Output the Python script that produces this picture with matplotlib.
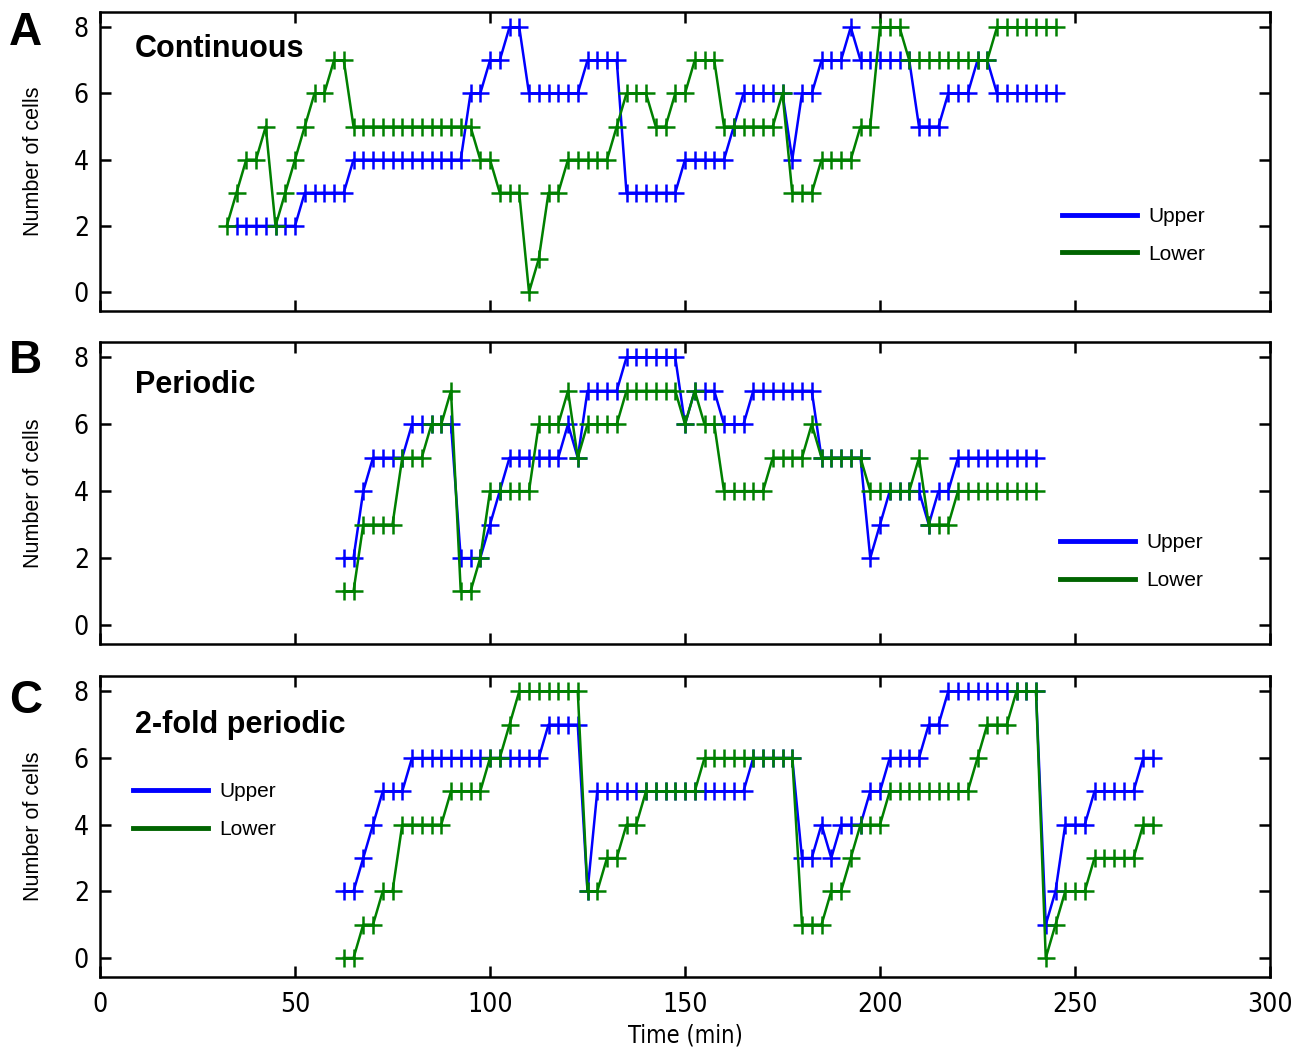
import numpy as np
import matplotlib
matplotlib.use("Agg")
from matplotlib import pyplot as plt
from matplotlib.lines import Line2D

# sampling interval of the recordings (min)
dt = 2.5

# Panel A - continuous
a_upper_t0 = 35.0
a_upper = [2, 2, 2, 2, 2, 2, 2, 3, 3, 3, 3, 3, 4, 4, 4, 4, 4, 4, 4, 4, 4, 4, 4, 4,
           6, 6, 7, 7, 8, 8, 6, 6, 6, 6, 6, 6, 7, 7, 7, 7, 3, 3, 3, 3, 3, 3,
           4, 4, 4, 4, 4, 5, 6, 6, 6, 6, 6, 4, 6, 6, 7, 7, 7, 8, 7, 7, 7, 7, 7, 7,
           5, 5, 5, 6, 6, 6, 7, 7, 6, 6, 6, 6, 6, 6, 6]
a_lower_t0 = 32.5
a_lower = [2, 3, 4, 4, 5, 2, 3, 4, 5, 6, 6, 7, 7,
           5, 5, 5, 5, 5, 5, 5, 5, 5, 5, 5, 5, 5, 4, 4, 3, 3, 3, 0, 1, 3, 3,
           4, 4, 4, 4, 4, 5, 6, 6, 6, 5, 5, 6, 6, 7, 7, 7, 5, 5, 5, 5, 5, 5,
           6, 3, 3, 3, 4, 4, 4, 4, 5, 5, 8, 8, 8, 7, 7, 7, 7, 7, 7, 7, 7, 7,
           8, 8, 8, 8, 8, 8, 8]

# Panel B - periodic
b_upper_t0 = 62.5
b_upper = [2, 2, 4, 5, 5, 5, 5, 6, 6, 6, 6, 6, 2, 2, 2, 3, 4, 5, 5, 5, 5, 5, 5,
           6, 5, 7, 7, 7, 7, 8, 8, 8, 8, 8, 8, 6, 7, 7, 7, 6, 6, 6,
           7, 7, 7, 7, 7, 7, 7, 5, 5, 5, 5, 5, 2, 3, 4, 4, 4, 4, 3, 4, 4,
           5, 5, 5, 5, 5, 5, 5, 5, 5]
b_lower_t0 = 62.5
b_lower = [1, 1, 3, 3, 3, 3, 5, 5, 5, 6, 6, 7, 1, 1, 2, 4, 4, 4, 4, 4, 6, 6, 6,
           7, 5, 6, 6, 6, 6, 7, 7, 7, 7, 7, 7, 6, 7, 6, 6, 4, 4, 4, 4, 4,
           5, 5, 5, 5, 6, 5, 5, 5, 5, 5, 4, 4, 4, 4, 4, 5, 3, 3, 3,
           4, 4, 4, 4, 4, 4, 4, 4, 4]

# Panel C - 2-fold periodic
c_upper_t0 = 62.5
c_upper = [2, 2, 3, 4, 5, 5, 5, 6, 6, 6, 6, 6, 6, 6, 6, 6, 6, 6, 6, 6, 6,
           7, 7, 7, 7, 2, 5, 5, 5, 5, 5, 5, 5, 5, 5, 5, 5, 5, 5, 5, 5, 5,
           6, 6, 6, 6, 6, 3, 3, 4, 3, 4, 4, 4, 5, 5, 6, 6, 6, 6, 7, 7,
           8, 8, 8, 8, 8, 8, 8, 8, 8, 8, 1, 2, 4, 4, 4, 5, 5, 5, 5, 5, 6, 6]
c_lower_t0 = 62.5
c_lower = [0, 0, 1, 1, 2, 2, 4, 4, 4, 4, 4, 5, 5, 5, 5, 6, 6, 7,
           8, 8, 8, 8, 8, 8, 8, 2, 2, 3, 3, 4, 4, 5, 5, 5, 5, 5, 5,
           6, 6, 6, 6, 6, 6, 6, 6, 6, 6, 1, 1, 1, 2, 2, 3, 4, 4, 4,
           5, 5, 5, 5, 5, 5, 5, 5, 5, 6, 7, 7, 7, 8, 8, 8, 0, 1, 2, 2, 2,
           3, 3, 3, 3, 3, 4, 4]

panels = [
    ("A", "Continuous", a_upper_t0, a_upper, a_lower_t0, a_lower),
    ("B", "Periodic", b_upper_t0, b_upper, b_lower_t0, b_lower),
    ("C", "2-fold periodic", c_upper_t0, c_upper, c_lower_t0, c_lower),
]

W, H = 1303, 1050
plt.rcParams["font.family"] = ["Liberation Sans", "DejaVu Sans"]

fig = plt.figure(figsize=(W / 100, H / 100), dpi=100)

# pixel boxes of the three panels (top, bottom)
boxes = [(12, 311), (342, 644), (676, 977)]
title_y = [0.85, 0.83, 0.81]
legend_pos = [(0.822, 0.253), (0.8205, 0.273), (0.028, 0.553)]
letter_base = [45, 373, 713]

for i, (letter, title, tu0, up, tl0, lo) in enumerate(panels):
    top, bot = boxes[i]
    ax = fig.add_axes([100 / W, 1 - bot / H, 1170 / W, (bot - top) / H])
    tu = tu0 + dt * np.arange(len(up))
    tl = tl0 + dt * np.arange(len(lo))
    ax.plot(tu, up, color="#0000ff", lw=1.8, marker="+", ms=13, mew=1.8)
    ax.plot(tl, lo, color="#008000", lw=1.8, marker="+", ms=13, mew=1.8)

    ax.set_xlim(0, 300)
    ax.set_ylim(-0.57, 8.46)
    ax.set_xticks([0, 50, 100, 150, 200, 250, 300])
    ax.set_yticks([0, 2, 4, 6, 8])
    ax.tick_params(direction="in", length=8, width=1.8, top=True, right=True,
                   labelsize=19)
    ax.tick_params(axis="x", pad=11)
    ax.tick_params(axis="y", pad=8)
    for lab in ax.get_yticklabels() + ax.get_xticklabels():
        lab.set_family("DejaVu Sans")
        lab.set_stretch("condensed")
    for s in ax.spines.values():
        s.set_linewidth(1.8)
    if i < 2:
        ax.set_xticklabels([])
    else:
        ax.set_xlabel("Time (min)", fontsize=17, family="DejaVu Sans",
                      fontstretch="condensed", labelpad=4)
    ax.set_ylabel("Number of cells", fontsize=15.5)
    ax.yaxis.set_label_coords(-0.048, 0.5)

    ax.text(0.03, title_y[i], title, transform=ax.transAxes, fontsize=22,
            fontweight="bold", va="baseline", ha="left")
    fig.text(9 / W, 1 - letter_base[i] / H, letter, fontsize=33,
             fontweight="bold", va="baseline", ha="left")

    handles = [Line2D([], [], color="#0000ff", lw=3.5),
               Line2D([], [], color="#006400", lw=3.5)]
    ax.legend(handles, ["Upper", "Lower"], loc="center left",
              bbox_to_anchor=legend_pos[i], frameon=False, fontsize=15,
              handlelength=3.6, handletextpad=0.55, labelspacing=0.9,
              borderpad=0, borderaxespad=0)

fig.savefig("out.png", dpi=100)
